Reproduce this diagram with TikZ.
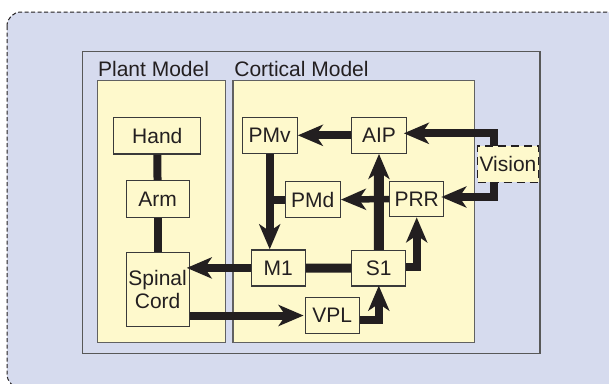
\documentclass[tikz,border=0pt]{standalone}
\usepackage{fontspec}
\setmainfont{Liberation Sans}
\usetikzlibrary{arrows.meta,calc}
\definecolor{lav}{HTML}{D6DBEE}
\definecolor{yel}{HTML}{FEF9CC}
\definecolor{edge}{HTML}{3A3A3A}
\definecolor{ink}{HTML}{231F20}
\tikzset{
  blk/.style={draw=edge, line width=1.2pt, fill=yel, inner sep=0pt,
    font=\fontsize{21}{23}\selectfont, align=center, text=ink},
  panel/.style={draw=edge!80, line width=1.3pt, fill=yel, inner sep=0pt},
  lbl/.style={font=\fontsize{21}{23}\selectfont, text=ink, inner sep=0pt, anchor=base west},
  conn/.style={draw=ink, line width=8pt},
  arr/.style={conn, -{Stealth[length=25pt,width=21pt,inset=7pt]}},
}
\begin{document}
\begin{tikzpicture}[x=1pt,y=-1pt]
\useasboundingbox (0,0) rectangle (609,383);
% outer dashed rounded frame
\draw[fill=lav, draw=ink, line width=1pt, dash pattern=on 4pt off 2.5pt, rounded corners=14pt]
  (7,12) rectangle (620,388);
% inner frame
\node[draw=edge!85, line width=1.5pt, fill=lav, minimum width=457.5pt, minimum height=301.6pt, inner sep=0pt] (frame) at (311.05,202.5) {};
% panels
\node[panel, minimum width=128.1pt, minimum height=262pt] (plant) at (161.55,211.7) {};
\node[panel, minimum width=241.6pt, minimum height=262pt] (cortical) at (353.8,211.7) {};
\node[lbl] (plantlbl) at (97.9,76) {Plant Model};
\node[lbl] (cortlbl) at (234.2,76) {Cortical Model};
% blocks
\node[blk, minimum width=87pt, minimum height=36.3pt] (hand) at (157.3,135.9) {Hand};
\node[blk, minimum width=63pt, minimum height=37pt] (arm) at (157.6,199.2) {Arm};
\node[blk, minimum width=63pt, minimum height=74pt] (spinal) at (157.6,289.7) {Spinal\\Cord};
\node[blk, minimum width=55pt, minimum height=36pt] (pmv) at (269.7,135.3) {PMv};
\node[blk, minimum width=54.4pt, minimum height=36pt] (aip) at (379,135.3) {AIP};
\node[blk, minimum width=55pt, minimum height=36.5pt] (pmd) at (312.8,199.6) {PMd};
\node[blk, minimum width=54pt, minimum height=35.5pt] (prr) at (416.7,199) {PRR};
\node[blk, minimum width=54pt, minimum height=36pt] (m1) at (278.3,267.9) {M1};
\node[blk, minimum width=54pt, minimum height=35.5pt] (s1) at (378.8,268.3) {S1};
\node[blk, minimum width=54pt, minimum height=36.3pt] (vpl) at (332.2,315.5) {VPL};
% connectors
\draw[conn] (hand) -- (arm);
\draw[conn] (arm) -- (spinal);
\draw[arr, shorten >=-3pt] (m1.west) -- (spinal.east |- m1.west);
\draw[arr, shorten >=1pt] (spinal.east |- vpl.west) -- (vpl.west);
\draw[arr, shorten >=-1pt] ([yshift=-4pt]vpl.east) -| (s1.south);
\draw[conn, line width=9pt] (m1) -- (s1);
\draw[arr] ([yshift=1pt]s1.east) -| (prr.south);
\draw[arr, line width=10pt] (s1.north) -- (aip.south);
\draw[arr, line width=6.5pt] (prr.west) -- (pmd.east);
\draw[arr] (aip.west) -- (pmv.east);
\draw[arr] (pmv.south) -- (pmv.south |- m1.north);
\draw[conn] (pmd.west) -- (pmv.south |- pmd.west);
\coordinate (vtop) at (493.5,164);
\draw[arr, shorten >=-3pt] (vtop) |- ([yshift=2pt]aip.east);
\draw[arr, shorten >=-3pt] (vtop) |- ([yshift=2pt]prr.east);
\node[blk, draw=ink, line width=1.4pt, dash pattern=on 8pt off 5pt, minimum width=61pt, minimum height=36.3pt] (vision) at (508,164.2) {Vision};
\end{tikzpicture}
\end{document}
